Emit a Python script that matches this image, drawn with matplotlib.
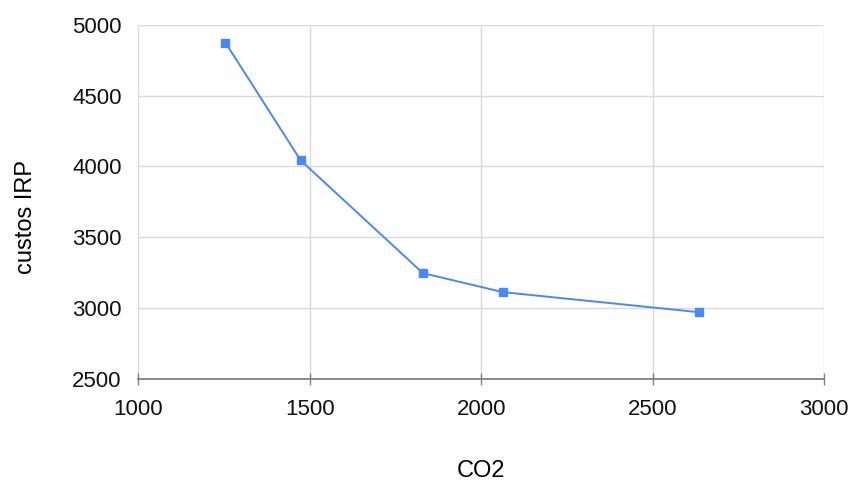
import matplotlib.pyplot as plt

plt.rcParams['font.family'] = ['Liberation Sans', 'DejaVu Sans']

co2 = [1254, 1473, 1830, 2063, 2636]
custos = [4873, 4043, 3246, 3112, 2970]

W, H = 851, 484
fig = plt.figure(figsize=(W / 100, H / 100), dpi=100)
ax = fig.add_axes([138.4 / W, 1 - 378.8 / H, (824 - 138.4) / W, (378.8 - 24.7) / H])

ax.plot(co2, custos, color='#4a89f3', linewidth=1.4, marker='s', markersize=5.2,
        markeredgecolor='#4a89f3', markerfacecolor='#4a89f3', zorder=3, clip_on=False)

ax.set_xlim(1000, 3000)
ax.set_ylim(2500, 5000)
ax.set_xticks([1000, 1500, 2000, 2500, 3000])
ax.set_yticks([2500, 3000, 3500, 4000, 4500, 5000])
ax.grid(True, color='#d9d9d9', linewidth=1)
ax.set_axisbelow(True)

for s in ['top', 'left', 'right']:
    ax.spines[s].set_visible(False)
ax.spines['bottom'].set_color('#808080')
ax.spines['bottom'].set_linewidth(1.3)

ax.tick_params(axis='x', direction='inout', length=9, width=1, color='#808080',
               labelsize=16, pad=10, labelcolor='#111111')
ax.tick_params(axis='y', length=0, labelsize=16, pad=12, labelcolor='#111111')

# axis titles
fig.text(481 / W, 1 - 477 / H, 'CO2', fontsize=17, color='#000000',
         ha='center', va='baseline')
fig.text(32 / W, 1 - 217 / H, 'custos IRP', fontsize=17, color='#000000',
         rotation=90, rotation_mode='anchor', ha='center', va='baseline')

fig.savefig('out.png', dpi=100)
